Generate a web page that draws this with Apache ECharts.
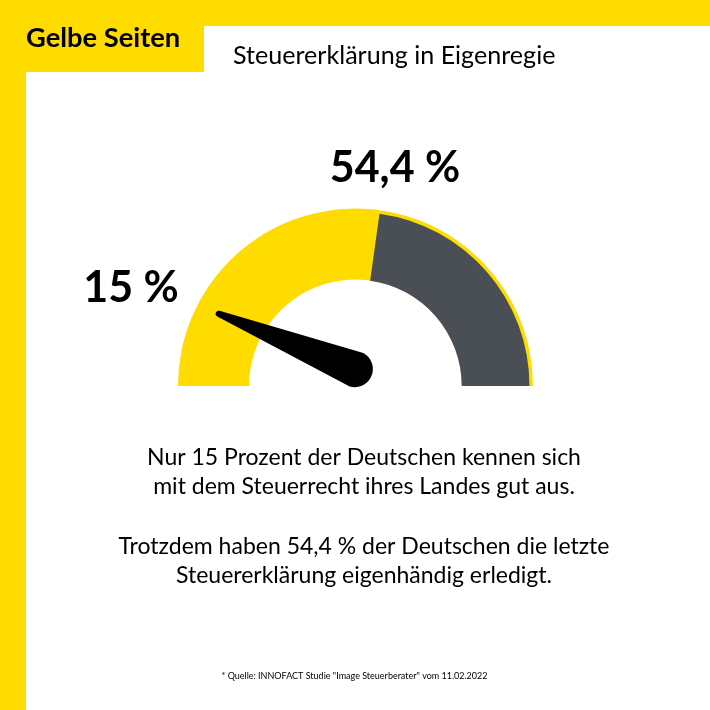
<!DOCTYPE html>
<html>
<head>
<meta charset="utf-8">
<title>Steuererklärung in Eigenregie</title>
<script src="https://cdn.jsdelivr.net/npm/echarts@6/dist/echarts.min.js"></script>
<style>
  html, body { margin: 0; padding: 0; background: #fff; }
  #chart { width: 710px; height: 710px; }
</style>
</head>
<body>
<div id="chart"></div>
<script>
const knowledgeShare = 15;
const selfFiledShare = 54.4;
const valueLabels = ['15 %', '54,4 %'];
const brand = 'Gelbe Seiten';
const heading = 'Steuererklärung in Eigenregie';
const bodyLines = [
  'Nur 15 Prozent der Deutschen kennen sich',
  'mit dem Steuerrecht ihres Landes gut aus.',
  'Trotzdem haben 54,4 % der Deutschen die letzte',
  'Steuererklärung eigenhändig erledigt.'
];
const bodyLineY = [458, 487, 547, 576];
const footnote = '* Quelle: INNOFACT Studie "Image Steuerberater" vom 11.02.2022';

const YELLOW = '#ffdc00';
const GREY = '#4a4f55';
const FONT = 'Lato, "Open Sans", sans-serif';
const CENTER = [355.5, 386];

// needle outline, gets scaled into the pointer box by echarts
const NEEDLE = 'path://M-0.8 -157.16 A3 3 0 0 1 5.15 -157.66 L32.58 -11.58 A18 18 0 0 1 -3.1 -8.54 Z';

const text = (x, y, str, size, weight, align) => ({
  type: 'text', x, y,
  style: { text: str, fontFamily: FONT, fontSize: size, fontWeight: weight, fill: '#000',
           align: align || 'center', verticalAlign: 'middle' }
});

const baseGauge = {
  type: 'gauge', center: CENTER, startAngle: 180, endAngle: 0, min: 0, max: 100, silent: true,
  splitLine: { show: false }, axisTick: { show: false }, axisLabel: { show: false },
  pointer: { show: false }, anchor: { show: false }, title: { show: false }, detail: { show: false }
};

const getOption = () => ({
  animation: false,
  backgroundColor: '#fff',
  graphic: [
    { type: 'rect', shape: { x: 0, y: 0, width: 710, height: 26 }, style: { fill: YELLOW } },
    { type: 'rect', shape: { x: 0, y: 0, width: 26, height: 710 }, style: { fill: YELLOW } },
    { type: 'rect', shape: { x: 0, y: 0, width: 204, height: 72 }, style: { fill: YELLOW } },
    text(26, 38, brand, 27.3, 700, 'left'),
    text(233, 56, heading, 25.1, 400, 'left'),
    text(395, 168.5, valueLabels[1], 43, 700),
    text(131, 288, valueLabels[0], 43, 700),
    ...bodyLines.map((line, i) => text(364, bodyLineY[i], line, 23, 400)),
    text(354.5, 676, footnote, 9, 400)
  ],
  series: [
    // yellow half ring, it also shows as a thin rim around the grey part
    { ...baseGauge, radius: 177.5,
      axisLine: { lineStyle: { width: 71, color: [[1, YELLOW]] } },
      data: [{ value: knowledgeShare }] },
    { ...baseGauge, radius: 174,
      axisLine: { lineStyle: { width: 67.8, color: [[selfFiledShare / 100, 'rgba(0,0,0,0)'], [1, GREY]] } },
      pointer: { show: true, icon: NEEDLE, width: 36, length: 167.5, offsetCenter: [14.9, 9.8],
                 itemStyle: { color: '#000' } },
      data: [{ value: knowledgeShare }] }
  ]
});

const chart = echarts.init(document.getElementById('chart'));
chart.setOption(getOption());
</script>
</body>
</html>
